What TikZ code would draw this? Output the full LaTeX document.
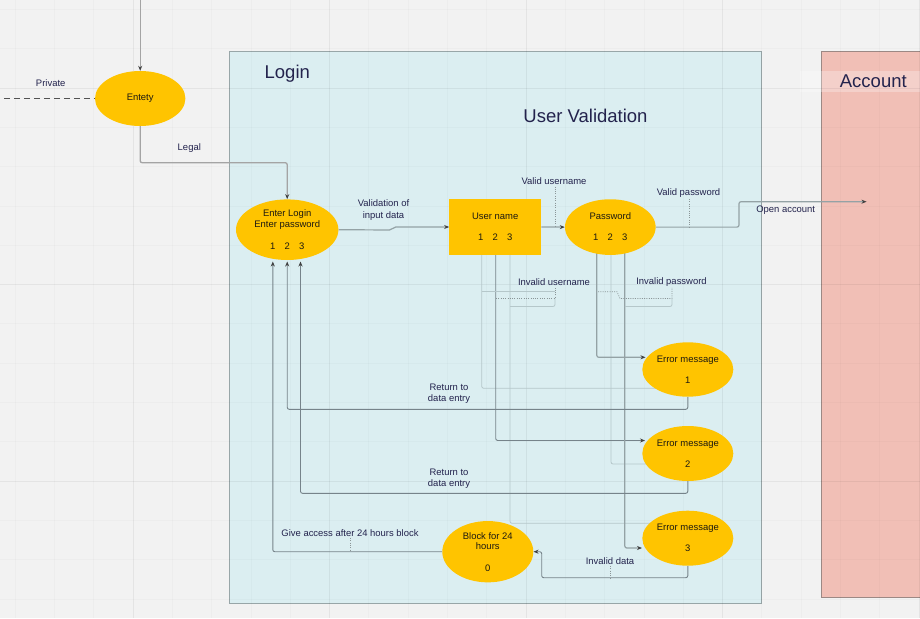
\documentclass[tikz,border=0pt]{standalone}
\usepackage{fontspec}
\setmainfont{Liberation Sans}
\usetikzlibrary{shapes.geometric,arrows.meta,calc}
\definecolor{bgc}{HTML}{F2F2F2}
\definecolor{loginfill}{HTML}{DBEEF1}
\definecolor{loginedge}{HTML}{98A6A8}
\definecolor{accfill}{HTML}{F1BFB6}
\definecolor{accedge}{HTML}{9C8884}
\definecolor{gold}{HTML}{FFC400}
\definecolor{navy}{HTML}{23234D}
\definecolor{nodetext}{HTML}{1E1A10}
\definecolor{wire}{HTML}{94A2A5}
\definecolor{wiredark}{HTML}{76838A}
\definecolor{faintc}{HTML}{B5C7CA}
\definecolor{outwire}{HTML}{A4A4A4}
\definecolor{dotc}{HTML}{8A9597}
\newcommand\lblfont{\fontsize{9.45}{11.2}\selectfont}
\newcommand\nodefont{\fontsize{9.45}{10.5}\selectfont}
\newcommand\headfont{\fontsize{18.5}{20}\selectfont}
\pgfdeclarelayer{back}
\pgfdeclarelayer{edges}
\pgfsetlayers{back,edges,main}
\tikzset{
  goldell/.style={ellipse, fill=gold, draw=none, inner sep=0pt, align=center,
    text=nodetext, font=\nodefont},
  goldrect/.style={rectangle, fill=gold, draw=none, inner sep=0pt, align=center,
    text=nodetext, font=\nodefont},
  lbl/.style={text=navy, font=\lblfont, inner sep=0pt, align=center},
  head/.style={text=navy, font=\headfont, inner sep=0pt},
  wirew/.style={draw=wire, line width=1.2pt, rounded corners=2pt},
  wired/.style={draw=wiredark, line width=0.9pt, rounded corners=2pt},
  faintw/.style={draw=faintc, line width=0.8pt, rounded corners=2pt},
  outw/.style={draw=outwire, line width=1.3pt, rounded corners=2pt},
  dotl/.style={draw=dotc, line width=0.7pt, dash pattern=on 1pt off 1.3pt},
  tip/.style={-{Stealth[length=5pt,width=4pt,color=black!75]}},
  gridminor/.style={draw=black, opacity=0.018, line width=0.8pt},
  gridmajor/.style={draw=black, opacity=0.035, line width=1pt},
}
\begin{document}
\begin{tikzpicture}[x=1pt,y=-1pt]
\useasboundingbox (0,0) rectangle (920,618);
\begin{pgfonlayer}{back}
  \fill[bgc] (0,0) rectangle (920,618);
  \draw[loginedge, line width=1pt, fill=loginfill] (229.5,52) rectangle (761.7,603.3);
  \draw[accedge, line width=1pt, fill=accfill] (821.7,51.7) rectangle (926,597.3);
  \fill[white, opacity=0.28] (800,71) rectangle (920,92);
  \foreach \i in {0,...,23} \draw[gridminor] ({15.1+39.3*\i},0) -- ++(0,618);
  \foreach \i in {0,...,15} \draw[gridminor] (0,{9.4+39.3*\i}) -- ++(920,0);
  \foreach \i in {0,...,4} \draw[gridmajor] ({133+196.5*\i},0) -- ++(0,618);
  \foreach \i in {0,...,2} \draw[gridmajor] (0,{88+196.5*\i}) -- ++(920,0);
\end{pgfonlayer}

% headings
\node[head] (hlogin) at (287.3,73.3) {Login};
\node[head] (huv) at (585.5,116) {User Validation};
\node[head] (hacc) at (873.3,81.7) {Account};

% nodes
\node[goldell, minimum width=90.4pt, minimum height=55pt] (ent) at (140.2,98.5) {Entety};
\node[goldell, minimum width=102.4pt, minimum height=60.6pt] (enter) at (287.2,229.7)
  {Enter Login\\Enter password\\[11.5pt]1\hspace{9.2pt}2\hspace{9.2pt}3};
\node[goldrect, minimum width=91.7pt, minimum height=56pt] (user) at (495.2,227)
  {User name\\[10.5pt]1\hspace{9.2pt}2\hspace{9.2pt}3};
\node[goldell, minimum width=90.7pt, minimum height=55.7pt] (pass) at (610.3,227.1)
  {Password\\[10.5pt]1\hspace{9.2pt}2\hspace{9.2pt}3};
\node[goldell, minimum width=91pt, minimum height=54.4pt] (err1) at (687.8,369.5)
  {Error message\\[10.5pt]1};
\node[goldell, minimum width=91pt, minimum height=55pt] (err2) at (687.8,453.5)
  {Error message\\[10.5pt]2};
\node[goldell, minimum width=91pt, minimum height=55pt] (err3) at (687.8,538.2)
  {Error message\\[10.5pt]3};
\node[goldell, minimum width=91pt, minimum height=61.3pt] (blk) at (487.8,551.7)
  {Block for 24\\hours\\[11pt]0};

% free ends
\coordinate (topin) at (140.2,0);
\coordinate (privin) at (4,98.5);
\coordinate (acctip) at (866.5,201.7);
\coordinate (in1) at (272.8,261.5);
\coordinate (in2) at (287.2,261.5);
\coordinate (in3) at (300.5,261.5);
\coordinate (e1in) at (645.5,357.3);
\coordinate (e2in) at (645,440.5);
\coordinate (e3in) at (642,548);
\coordinate (b3) at (541.7,551.7);

% labels
\node[lbl] (lpriv) at (50.7,83.3) {Private};
\node[lbl] (llegal) at (189.3,147.7) {Legal};
\node[lbl] (lvalid) at (383.5,210) {Validation of\\input data};
\node[lbl] (lvu) at (554,180.7) {Valid username};
\node[lbl] (lvp) at (688.5,193.5) {Valid password};
\node[lbl] (lopen) at (785.7,210) {Open account};
\node[lbl] (liu) at (554,281.7) {Invalid username};
\node[lbl] (lip) at (671.5,281.7) {Invalid password};
\node[lbl] (lret1) at (449,394) {Return to\\data entry};
\node[lbl] (lret2) at (449,478.5) {Return to\\data entry};
\node[lbl] (lgive) at (350,532.7) {Give access after 24 hours block};
\node[lbl] (linv) at (610,560.7) {Invalid data};

\begin{pgfonlayer}{edges}
  % outside container
  \draw[outw,tip] (topin) -- (ent.north);
  \draw[draw=black!68, line width=1.4pt, dash pattern=on 6pt off 4pt] (privin) -- (ent.west);
  \draw[outw,tip] (ent.south) -- (ent.south |- 0,162.7) -| (enter.north);
  % main flow
  \draw[wirew,tip] (enter.east) -- (391.5,230) -- (394,226.9) -- (user.west);
  \draw[wirew,tip] (user.east) -- (pass.west);
  \draw[wirew,tip] (pass.east) -- (739,227.1) |- (acctip);
  % to error messages
  \draw[faintw] (user.center -| 481.7,0) |- (670,388.3);
  \draw[faintw] (user.center -| 510,0) |- (665,523.3);
  \draw[faintw] (pass.center -| 611,0) |- (670,464);
  \draw[wirew,tip] (pass.center -| 596.8,0) |- (e1in);
  \draw[wired,tip] (user.center -| 495.7,0) |- (e2in);
  \draw[wirew,tip] (pass.center -| 624.8,0) |- (e3in);
  % label artefacts
  \draw[faintw] (481.7,291.7) -- (555,291.7);
  \draw[faintw] (510,306.5) -- (555,306.5) -- (555,298.5);
  \draw[dotl] (496,298.5) -- (555,298.5) -- (555,287);
  \draw[dotl] (598,291.7) -- (617,291.7) -- (620,298.5) -- (672,298.5) -- (672,287);
  \draw[faintw] (624.8,306.5) -- (672,306.5) -- (672,298.5);
  % returns
  \draw[wired,tip] (err1.south) -- (err1.south |- 0,409.3) -| (in2);
  \draw[wired,tip] (err2.south) -- (err2.south |- 0,493.3) -| (in3);
  \draw[wired,tip] (blk.west) -| (in1);
  \draw[wired,tip] (err3.south) -- (err3.south |- 0,577.7) -| (b3) -- (blk.east);
  % leaders
  \draw[dotl] (555,186.5) -- (555,227);
  \draw[dotl] (689,199) -- (689,227.1);
  \draw[dotl] (350,538) -- (350,551.7);
  \draw[dotl] (610,566) -- (610,577.7);
\end{pgfonlayer}
\end{tikzpicture}
\end{document}
